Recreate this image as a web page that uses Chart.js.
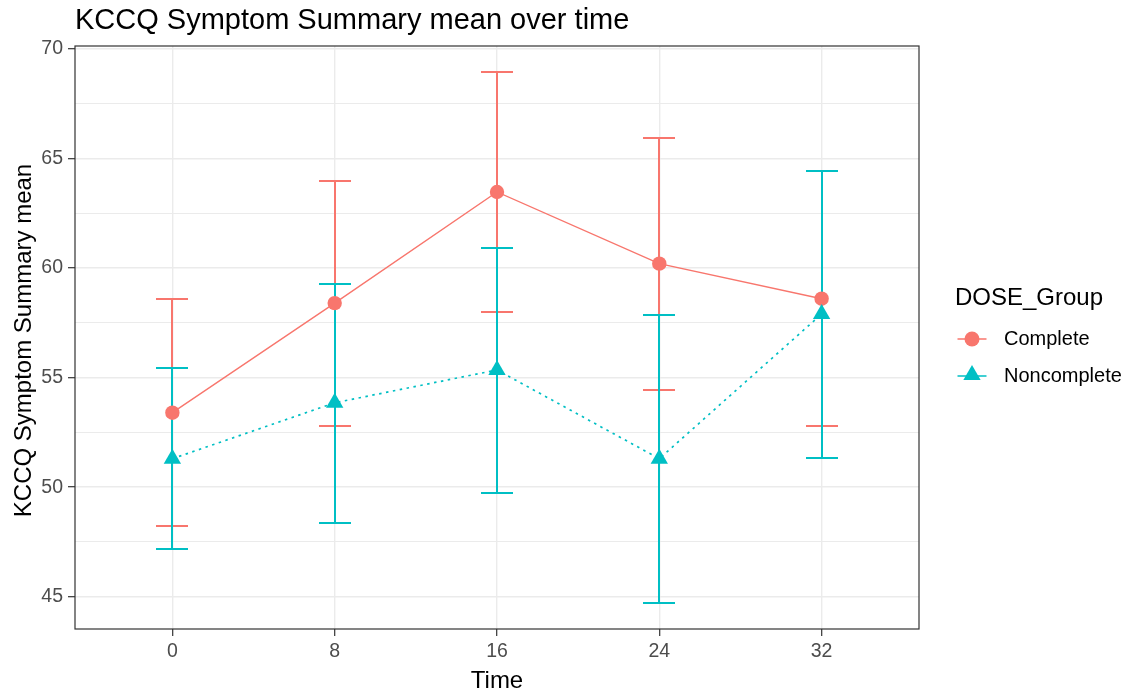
<!DOCTYPE html>
<html>
<head>
<meta charset="utf-8">
<title>KCCQ Symptom Summary mean over time</title>
<script src="https://cdn.jsdelivr.net/npm/chart.js@4.4.1/dist/chart.umd.min.js"></script>
<style>
  html, body { margin: 0; padding: 0; background: #ffffff; }
  canvas { display: block; }
</style>
</head>
<body>
<canvas id="chart" width="1139" height="700"></canvas>
<script>
// Chart values
const timePoints = [0, 8, 16, 24, 32];
const groupNames = ['Complete', 'Noncomplete'];

const completeMean = [53.4, 58.4, 63.47, 60.2, 58.6];
const completeLower = [48.22, 52.8, 57.98, 54.45, 52.8];
const completeUpper = [58.59, 63.97, 68.95, 65.94, 64.44];

const noncompleteMean = [51.3, 53.85, 55.35, 51.3, 57.9];
const noncompleteLower = [47.17, 48.37, 49.73, 44.7, 51.31];
const noncompleteUpper = [55.43, 59.26, 60.91, 57.85, 64.44];

const yMajorTicks = [45, 50, 55, 60, 65, 70];
const yMinorTicks = [47.5, 52.5, 57.5, 62.5, 67.5];

const chartTitle = 'KCCQ Symptom Summary mean over time';
const xTitle = 'Time';
const yTitle = 'KCCQ Symptom Summary mean';
const legendTitle = 'DOSE_Group';

const RED = '#F8766D';
const CYAN = '#00BFC4';
const FONT = '"Liberation Sans", Arial, sans-serif';

// Turn arrays into {x, y} points
function toPoints(values) {
  return timePoints.map((t, i) => ({ x: t, y: values[i] }));
}

// Draw error bars under the lines and points
const errorBarPlugin = {
  id: 'errorBars',
  beforeDatasetsDraw(chart) {
    const ctx = chart.ctx;
    const xs = chart.scales.x;
    const ys = chart.scales.y;
    ctx.save();
    chart.data.datasets.forEach(ds => {
      ctx.strokeStyle = ds.borderColor;
      ctx.lineWidth = 2;
      timePoints.forEach((t, i) => {
        const x = Math.round(xs.getPixelForValue(t));
        const half = Math.round(xs.getPixelForValue(t + 0.8) - xs.getPixelForValue(t));
        const yLo = Math.round(ys.getPixelForValue(ds.errLower[i]));
        const yHi = Math.round(ys.getPixelForValue(ds.errUpper[i]));
        ctx.beginPath();
        ctx.moveTo(x, yLo);
        ctx.lineTo(x, yHi);
        ctx.moveTo(x - half, yLo);
        ctx.lineTo(x + half, yLo);
        ctx.moveTo(x - half, yHi);
        ctx.lineTo(x + half, yHi);
        ctx.stroke();
      });
    });
    ctx.restore();
  }
};

// Panel border, titles and the legend, ggplot style
const decorPlugin = {
  id: 'decor',
  afterDraw(chart) {
    const ctx = chart.ctx;
    const area = chart.chartArea;
    ctx.save();

    // panel border
    ctx.strokeStyle = '#333333';
    ctx.lineWidth = 1.2;
    ctx.strokeRect(area.left, area.top, area.right - area.left, area.bottom - area.top);

    // main title
    ctx.fillStyle = '#000000';
    ctx.font = '29px ' + FONT;
    ctx.textAlign = 'left';
    ctx.textBaseline = 'alphabetic';
    ctx.fillText(chartTitle, area.left, 29);

    // axis titles
    ctx.font = '24px ' + FONT;
    ctx.textAlign = 'center';
    ctx.fillText(xTitle, (area.left + area.right) / 2, 688);
    ctx.save();
    ctx.translate(31, (area.top + area.bottom) / 2 + 3);
    ctx.rotate(-Math.PI / 2);
    ctx.fillText(yTitle, 0, 0);
    ctx.restore();

    // legend
    ctx.textAlign = 'left';
    ctx.font = '24px ' + FONT;
    ctx.fillText(legendTitle, 955, 305);
    const keyX = 972;
    const rows = [339, 376];
    ctx.font = '20px ' + FONT;
    ctx.textBaseline = 'middle';
    chart.data.datasets.forEach((ds, i) => {
      const y = rows[i];
      ctx.strokeStyle = ds.borderColor;
      ctx.lineWidth = 1.5;
      ctx.beginPath();
      ctx.moveTo(keyX - 14.5, y);
      ctx.lineTo(keyX + 14.5, y);
      ctx.stroke();
      ctx.fillStyle = ds.borderColor;
      Chart.helpers.drawPoint(ctx, {
        pointStyle: ds.pointStyle,
        radius: ds.pointStyle === 'triangle' ? 10 : 7.5,
        rotation: 0,
        borderWidth: 0
      }, keyX, ds.pointStyle === 'triangle' ? y - 1 : y);
      ctx.fillStyle = '#000000';
      ctx.fillText(ds.label, 1004, y);
    });

    ctx.restore();
  }
};

const ctx = document.getElementById('chart').getContext('2d');

new Chart(ctx, {
  type: 'line',
  data: {
    datasets: [
      {
        label: groupNames[0],
        data: toPoints(completeMean),
        errLower: completeLower,
        errUpper: completeUpper,
        borderColor: RED,
        backgroundColor: RED,
        borderWidth: 1.4,
        pointStyle: 'circle',
        pointRadius: 7.2,
        pointBorderWidth: 0,
        pointBackgroundColor: RED,
        tension: 0,
        order: 2
      },
      {
        label: groupNames[1],
        data: toPoints(noncompleteMean),
        errLower: noncompleteLower,
        errUpper: noncompleteUpper,
        borderColor: CYAN,
        backgroundColor: CYAN,
        borderWidth: 1.7,
        borderDash: [2.5, 4.5],
        pointStyle: 'triangle',
        pointRadius: 10,
        pointBorderWidth: 0,
        pointBackgroundColor: CYAN,
        tension: 0,
        order: 1
      }
    ]
  },
  options: {
    responsive: false,
    animation: false,
    devicePixelRatio: 1,
    layout: {
      padding: { left: 0, top: 46, right: 220, bottom: 0 }
    },
    plugins: {
      legend: { display: false },
      title: { display: false },
      tooltip: { enabled: false }
    },
    scales: {
      x: {
        type: 'linear',
        min: -4.8,
        max: 36.8,
        afterFit(scale) { scale.height = 71; },
        afterBuildTicks(scale) {
          scale.ticks = timePoints.map(v => ({ value: v }));
        },
        grid: {
          color: '#ebebeb',
          lineWidth: 1.4,
          drawTicks: true,
          tickLength: 7,
          tickColor: '#333333',
          tickWidth: 1.2
        },
        border: { display: false },
        ticks: {
          autoSkip: false,
          maxRotation: 0,
          padding: 4,
          color: '#4d4d4d',
          font: { family: FONT, size: 19.5 },
          callback: value => String(value)
        }
      },
      y: {
        type: 'linear',
        min: 43.53,
        max: 70.13,
        afterFit(scale) { scale.width = 75; },
        afterBuildTicks(scale) {
          scale.ticks = yMajorTicks.concat(yMinorTicks)
            .sort((a, b) => a - b)
            .map(v => ({ value: v }));
        },
        grid: {
          color: '#ebebeb',
          lineWidth: c => (yMajorTicks.includes(c.tick.value) ? 1.4 : 1),
          drawTicks: true,
          tickLength: 7,
          tickColor: c => (yMajorTicks.includes(c.tick.value) ? '#333333' : 'rgba(0,0,0,0)'),
          tickWidth: 1.2
        },
        border: { display: false },
        ticks: {
          autoSkip: false,
          padding: 5,
          color: '#4d4d4d',
          font: { family: FONT, size: 19.5 },
          callback: value => (yMajorTicks.includes(value) ? String(value) : '')
        }
      }
    }
  },
  plugins: [errorBarPlugin, decorPlugin]
});
</script>
</body>
</html>
